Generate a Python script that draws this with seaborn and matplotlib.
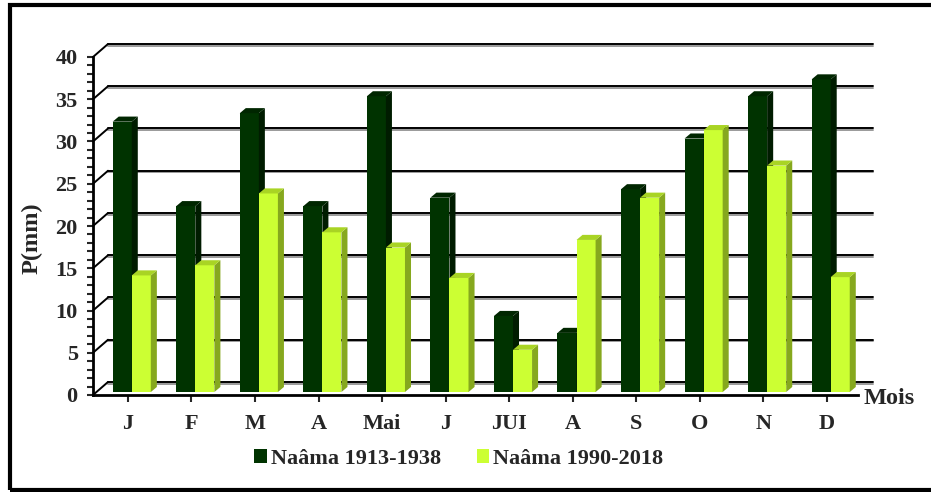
import numpy as np
import pandas as pd
import seaborn as sns
import matplotlib.pyplot as plt
from matplotlib.patches import Polygon, Rectangle
from matplotlib.ticker import MultipleLocator

# data
months = ['J', 'F', 'M', 'A', 'Mai', 'J', 'JUI', 'A', 'S', 'O', 'N', 'D']
p_1913_1938 = [32, 22, 33, 22, 35, 23, 9, 7, 24, 30, 35, 37]
p_1990_2018 = [13.8, 15, 23.5, 18.9, 17.1, 13.5, 5, 18, 23, 31, 26.8, 13.6]
series = ['Naâma 1913-1938', 'Naâma 1990-2018']

df = pd.DataFrame({
    'mois': list(range(12)) * 2,
    'P': p_1913_1938 + p_1990_2018,
    'serie': [series[0]] * 12 + [series[1]] * 12,
})

front = ['#003300', '#ccff33']
side = ['#001c00', '#86a81e']
top = ['#002600', '#a9d424']

sns.set_style('white')
plt.rcParams['font.family'] = ['Liberation Serif', 'DejaVu Serif']
plt.rcParams['font.weight'] = 'bold'

W, H = 931, 492
fig = plt.figure(figsize=(W / 100, H / 100), dpi=100)
ax = fig.add_axes([93 / W, 1 - 395 / H, 765 / W, 338 / H])

sns.barplot(data=df, x='mois', y='P', hue='serie', palette=front,
            width=0.6, saturation=1, linewidth=0, ax=ax, zorder=3)

x0, x1 = -0.55, 11.49
ax.set_xlim(x0, x1)
ax.set_ylim(0, 40)

# pseudo 3D: depth of the back wall and of the bars, in data units
DX, DY = 0.236, 1.54
bdx, bdy = 0.095, 0.6
lift = 0.35

for v in range(0, 45, 5):
    ax.plot([x0 + DX, x1 + DX], [v + DY - 0.18] * 2, color='#9a9a9a', lw=1.4,
            clip_on=False, zorder=0.9)
    ax.plot([x0 + DX, x1 + DX], [v + DY] * 2, color='black', lw=1.4,
            clip_on=False, zorder=1)
    ax.plot([x0, x0 + DX], [v, v + DY], color='black', lw=1.4,
            clip_on=False, zorder=1)

for i, cont in enumerate(ax.containers):
    for bar in cont:
        bar.set_x(bar.get_x() + 0.06)
        bar.set_y(lift)
        x, w, h = bar.get_x(), bar.get_width(), bar.get_height()
        b, t = lift, lift + h
        z = 3 + 2 * i
        bar.set_zorder(z)
        ax.add_patch(Polygon([(x + w, b), (x + w + bdx, b + bdy), (x + w + bdx, t + bdy), (x + w, t)],
                             closed=True, facecolor=side[i], edgecolor='none',
                             zorder=z + 0.5, clip_on=False))
        ax.add_patch(Polygon([(x, t), (x + bdx, t + bdy), (x + w + bdx, t + bdy), (x + w, t)],
                             closed=True, facecolor=top[i], edgecolor='none',
                             zorder=z + 0.5, clip_on=False))

sns.despine(ax=ax)
for s in ['left', 'bottom']:
    ax.spines[s].set_linewidth(2)
    ax.spines[s].set_color('black')
    ax.spines[s].set_zorder(10)

ax.set_xticks(range(12))
ax.set_xticklabels(months)
ax.set_yticks(range(0, 45, 5))
ax.yaxis.set_minor_locator(MultipleLocator(1))
ax.tick_params(axis='y', which='both', direction='out', length=4, width=1.5,
               left=True, labelsize=16, pad=7)
ax.tick_params(axis='x', direction='out', length=5, width=1.5, bottom=True,
               labelsize=16, pad=9)
for lab in ax.get_xticklabels() + ax.get_yticklabels():
    lab.set_fontweight('bold')

ax.set_xlabel('')
ax.set_ylabel('')
fig.text(32 / W, 1 - 238 / H, 'P(mm)', rotation=90, ha='center', va='center',
         fontsize=17.5, fontweight='bold')
fig.text(864 / W, 1 - 398 / H, 'Mois', ha='left', va='center',
         fontsize=17.5, fontweight='bold')

handles, labels = ax.get_legend_handles_labels()
ax.get_legend().remove()
fig.legend(handles, labels, loc='center', bbox_to_anchor=(459 / W, 1 - 459 / H),
           ncol=2, frameon=False, handlelength=0.55, handleheight=0.55,
           handletextpad=0.2, columnspacing=1.6, prop={'weight': 'bold', 'size': 16})

fig.add_artist(Rectangle((10 / W, 2 / H), 1, 1 - 7 / H, transform=fig.transFigure,
                         fill=False, lw=3, edgecolor='black'))

fig.savefig('out.png', dpi=100)
